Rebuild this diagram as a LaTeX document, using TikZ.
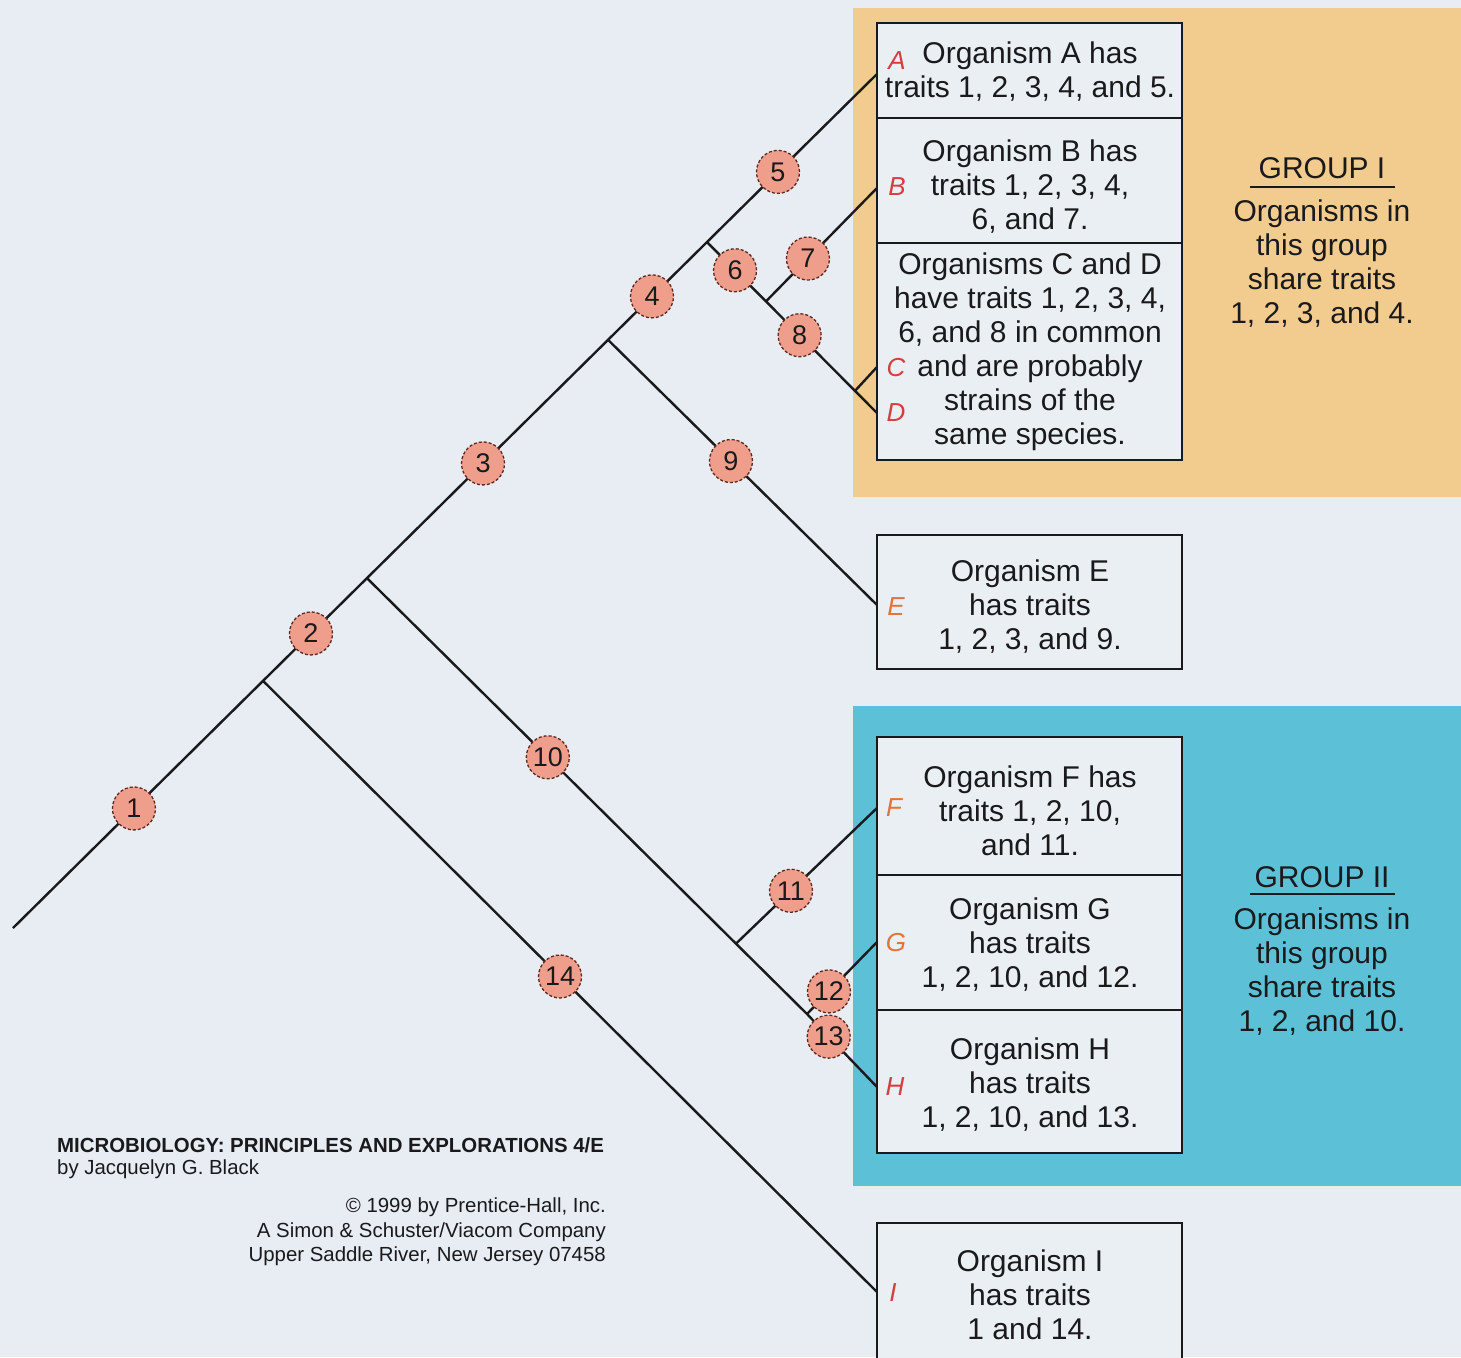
\documentclass[tikz,border=0pt]{standalone}
\usepackage{fontspec}
\setmainfont{Liberation Sans}
\usetikzlibrary{calc}
\definecolor{bg}{RGB}{231,237,243}
\definecolor{boxfill}{RGB}{234,239,244}
\definecolor{orangebg}{RGB}{242,203,143}
\definecolor{bluebg}{RGB}{92,192,214}
\definecolor{circfill}{RGB}{240,158,140}
\definecolor{circline}{RGB}{95,40,30}
\definecolor{lblred}{RGB}{212,62,62}
\definecolor{lblorange}{RGB}{226,116,58}
\definecolor{ink}{RGB}{26,26,28}
\pgfdeclarelayer{backlayer}
\pgfdeclarelayer{linelayer}
\pgfsetlayers{backlayer,linelayer,main}
\begin{document}
\begin{tikzpicture}[x=1pt,y=-1pt,
  branch/.style={draw=ink,line width=2.4pt},
  trait/.style={circle,fill=circfill,draw=circline,densely dashed,line width=1.3pt,
    minimum size=43pt,inner sep=0pt,font=\fontsize{27}{27}\selectfont,text=ink},
  orgbox/.style={draw=ink,fill=boxfill,line width=2.2pt,minimum width=305pt,inner sep=0pt},
  boxtext/.style={font=\fontsize{30}{34}\selectfont,align=center,inner sep=0pt,text=ink},
  lbl/.style={font=\fontsize{26}{26}\selectfont\itshape,inner sep=0pt},
  foot/.style={font=\fontsize{20.4}{24}\selectfont,inner sep=0pt,text=ink}
]
\useasboundingbox (0,0) rectangle (1461,1357);
\clip (0,0) rectangle (1461,1357);
\begin{pgfonlayer}{backlayer}
\fill[bg] (0,0) rectangle (1461,1357);
\fill[orangebg] (853,8) rectangle (1461,497);
\fill[bluebg] (853,706) rectangle (1461,1186);
\end{pgfonlayer}

% organism boxes
\node[orgbox,minimum height=95pt]  (boxA)  at (1029.5,70.5) {};
\node[orgbox,minimum height=125pt] (boxB)  at (1029.5,180.5) {};
\node[orgbox,minimum height=217pt] (boxCD) at (1029.5,351.5) {};
\node[orgbox,minimum height=134pt] (boxE)  at (1029.5,602) {};
\node[orgbox,minimum height=138pt] (boxF)  at (1029.5,806) {};
\node[orgbox,minimum height=135pt] (boxG)  at (1029.5,942.5) {};
\node[orgbox,minimum height=143pt] (boxH)  at (1029.5,1081.5) {};
\node[orgbox,minimum height=160pt] (boxI)  at (1029.5,1303) {};

\node[boxtext] (txtA)  at (1030,71.5)  {Organism A has\\traits 1, 2, 3, 4, and 5.};
\node[boxtext] (txtB)  at (1030,186.5) {Organism B has\\traits 1, 2, 3, 4,\\6, and 7.};
\node[boxtext] (txtCD) at (1030,352)   {Organisms C and D\\have traits 1, 2, 3, 4,\\6, and 8 in common\\and are probably\\strains of the\\same species.};
\node[boxtext] (txtE)  at (1030,606.5) {Organism E\\has traits\\1, 2, 3, and 9.};
\node[boxtext] (txtF)  at (1030,811)   {Organism F has\\traits 1, 2, 10,\\and 11.};
\node[boxtext] (txtG)  at (1030,945)   {Organism G\\has traits\\1, 2, 10, and 12.};
\node[boxtext] (txtH)  at (1030,1084.5){Organism H\\has traits\\1, 2, 10, and 13.};
\node[boxtext] (txtI)  at (1030,1295)  {Organism I\\has traits\\1 and 14.};

% group captions
\node[boxtext] (g1title) at (1322,168) {GROUP I};
\draw[ink,line width=2pt] (1250,187) -- (1395,187);
\node[boxtext] (g1body) at (1322,264) {Organisms in\\this group\\share traits\\1, 2, 3, and 4.};
\node[boxtext] (g2title) at (1322,877) {GROUP II};
\draw[ink,line width=2pt] (1250,894) -- (1395,894);
\node[boxtext] (g2body) at (1322,971.5) {Organisms in\\this group\\share traits\\1, 2, and 10.};

% branch ends at the boxes
\coordinate (root) at (13,928);
\coordinate (tA) at (877,74);
\coordinate (tB) at (877,188);
\coordinate (tC) at (877,367);
\coordinate (tD) at (877,413);
\coordinate (tE) at (877,605);
\coordinate (tF) at (877,808);
\coordinate (tG) at (877,942);
\coordinate (tH) at (877,1087);
\coordinate (tI) at (877,1292);

% junctions on straight branches
\coordinate (j14) at ($(root)!0.2894!(tA)$);
\coordinate (j10) at ($(root)!0.4097!(tA)$);
\coordinate (j9)  at ($(root)!0.6887!(tA)$);
\coordinate (j6)  at ($(root)!0.8032!(tA)$);
\coordinate (j12) at ($(j10)!1.0!(807,1014)$);
\coordinate (j11) at ($(j10)!0.8386!(j12)$);
\coordinate (j7)  at ($(j6)!0.347!(tD)$);
\coordinate (jCD) at ($(j6)!0.8706!(tD)$);

% trait circles
\node[trait] (c1)  at ($(root)!0.140!(tA)$) {1};
\node[trait] (c2)  at ($(root)!0.3449!(tA)$) {2};
\node[trait] (c3)  at ($(root)!0.544!(tA)$) {3};
\node[trait] (c4)  at ($(root)!0.7396!(tA)$) {4};
\node[trait] (c5)  at ($(root)!0.8854!(tA)$) {5};
\node[trait] (c6)  at ($(j6)!0.165!(tD)$) {6};
\node[trait] (c7)  at ($(j7)!0.378!(tB)$) {7};
\node[trait] (c8)  at ($(j6)!0.545!(tD)$) {8};
\node[trait] (c9)  at ($(j9)!0.457!(tE)$) {9};
\node[trait] (c10) at ($(j10)!0.411!(j12)$) {10};
\node[trait] (c11) at ($(j11)!0.39!(tF)$) {11};
\node[trait] (c12) at ($(j12)!0.314!(tG)$) {12};
\node[trait] (c13) at ($(j12)!0.31!(tH)$) {13};
\node[trait] (c14) at ($(j14)!0.4837!(tI)$) {14};

% branches
\begin{pgfonlayer}{linelayer}
\draw[branch] (root) -- (c1.center) -- (j14) -- (c2.center) -- (j10) -- (c3.center) -- (j9) -- (c4.center) -- (j6) -- (c5.center) -- (tA);
\draw[branch] (j14) -- (c14.center) -- (tI);
\draw[branch] (j10) -- (c10.center) -- (j11) -- (j12) -- (c13.center) -- (tH);
\draw[branch] (j11) -- (c11.center) -- (tF);
\draw[branch] (j12) -- (c12.center) -- (tG);
\draw[branch] (j9) -- (c9.center) -- (tE);
\draw[branch] (j6) -- (c6.center) -- (j7) -- (c8.center) -- (jCD) -- (tD);
\draw[branch] (jCD) -- (tC);
\draw[branch] (j7) -- (c7.center) -- (tB);
\end{pgfonlayer}

% organism letters
\node[lbl,text=lblred]    (lA) at (897,61)   {A};
\node[lbl,text=lblred]    (lB) at (897,187)  {B};
\node[lbl,text=lblred]    (lC) at (896,368)  {C};
\node[lbl,text=lblred]    (lD) at (896,413)  {D};
\node[lbl,text=lblorange] (lE) at (896,607)  {E};
\node[lbl,text=lblorange] (lF) at (894,808)  {F};
\node[lbl,text=lblorange] (lG) at (896,943)  {G};
\node[lbl,text=lblred]    (lH) at (895,1087) {H};
\node[lbl,text=lblred]    (lI) at (893,1293) {I};

% credits
\node[foot,anchor=west,font=\fontsize{20.4}{24}\selectfont\bfseries] (f1) at (57,1145) {MICROBIOLOGY: PRINCIPLES AND EXPLORATIONS 4/E};
\node[foot,anchor=west] (f2) at (57,1169) {by Jacquelyn G. Black};
\node[foot,anchor=east] (f3) at (606,1207) {© 1999 by Prentice-Hall, Inc.};
\node[foot,anchor=east] (f4) at (606,1232) {A Simon \& Schuster/Viacom Company};
\node[foot,anchor=east] (f5) at (606,1256) {Upper Saddle River, New Jersey 07458};
\end{tikzpicture}
\end{document}
